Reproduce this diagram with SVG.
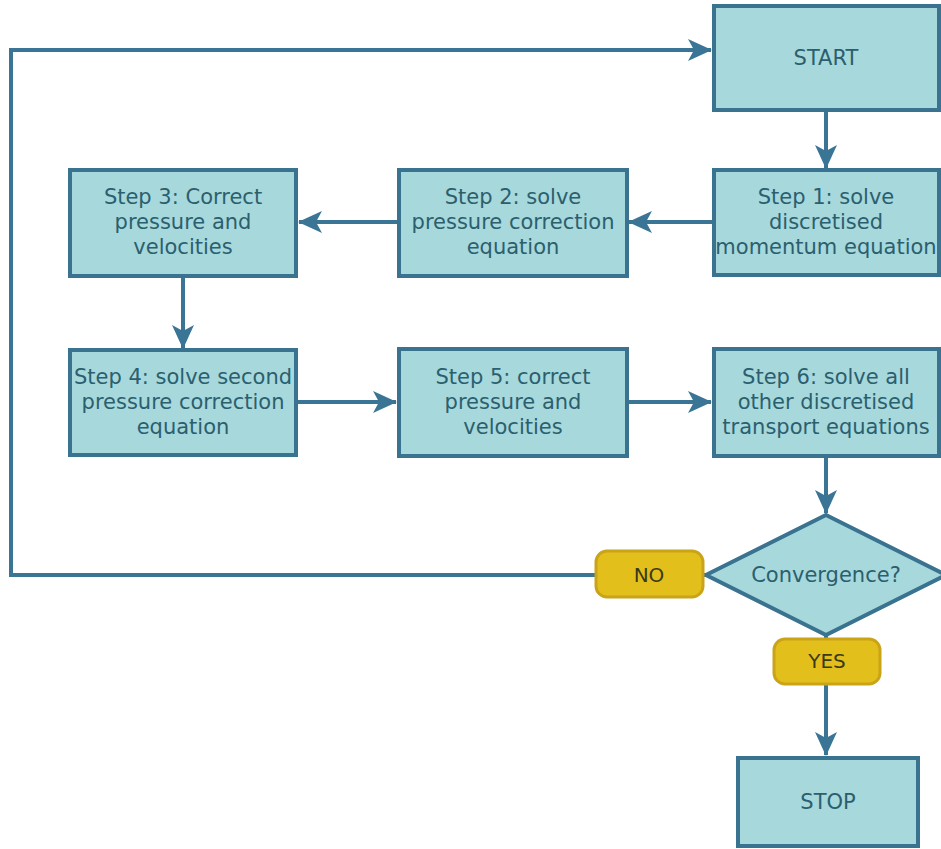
<svg xmlns="http://www.w3.org/2000/svg" width="941" height="849" viewBox="0 0 941 849">
<style>
.box{fill:#a7d8dc;stroke:#3a7390;stroke-width:4}
.lbl{fill:#e3bf1b;stroke:#c9a418;stroke-width:3}
.t{font-family:"DejaVu Sans",Verdana,sans-serif;font-size:21px;fill:#2b5f6e;text-anchor:middle;dominant-baseline:central}
.tl{font-family:"DejaVu Sans",Verdana,sans-serif;font-size:20px;fill:#3a3a1a;text-anchor:middle;dominant-baseline:central}
.c{fill:none;stroke:#3a7596;stroke-width:4}
</style>
<defs>
<marker id="a" viewBox="0 0 24 24" refX="23" refY="12" markerWidth="24" markerHeight="24" markerUnits="userSpaceOnUse" orient="auto">
<path d="M0,1 L24,12 L0,23 L6,12 Z" fill="#3a7596"/>
</marker>
</defs>
<rect width="941" height="849" fill="#ffffff"/>
<g id="connectors">
<path class="c" d="M826,110 V168" marker-end="url(#a)"/>
<path class="c" d="M713,222 H629" marker-end="url(#a)"/>
<path class="c" d="M398,222 H299" marker-end="url(#a)"/>
<path class="c" d="M183,277 V348" marker-end="url(#a)"/>
<path class="c" d="M297,402 H396" marker-end="url(#a)"/>
<path class="c" d="M627,402 H711" marker-end="url(#a)"/>
<path class="c" d="M826,456 V513" marker-end="url(#a)"/>
<path class="c" d="M826,635 V755" marker-end="url(#a)"/>
<path class="c" d="M707,575 H11 V50 H711" marker-end="url(#a)"/>
</g>
<g id="start"><rect class="box" x="714" y="6" width="225" height="104"/><text class="t" x="826" y="58">START</text></g>
<g id="step1"><rect class="box" x="714" y="170" width="225" height="105"/><text class="t" x="826"><tspan x="826" y="197">Step 1: solve</tspan><tspan x="826" y="222">discretised</tspan><tspan x="826" y="247">momentum equation</tspan></text></g>
<g id="step2"><rect class="box" x="399" y="170" width="228" height="106"/><text class="t"><tspan x="513" y="197">Step 2: solve</tspan><tspan x="513" y="222">pressure correction</tspan><tspan x="513" y="247">equation</tspan></text></g>
<g id="step3"><rect class="box" x="70" y="170" width="226" height="106"/><text class="t"><tspan x="183" y="197">Step 3: Correct</tspan><tspan x="183" y="222">pressure and</tspan><tspan x="183" y="247">velocities</tspan></text></g>
<g id="step4"><rect class="box" x="70" y="350" width="226" height="105"/><text class="t"><tspan x="183" y="377">Step 4: solve second</tspan><tspan x="183" y="402">pressure correction</tspan><tspan x="183" y="427">equation</tspan></text></g>
<g id="step5"><rect class="box" x="399" y="349" width="228" height="107"/><text class="t"><tspan x="513" y="377">Step 5: correct</tspan><tspan x="513" y="402">pressure and</tspan><tspan x="513" y="427">velocities</tspan></text></g>
<g id="step6"><rect class="box" x="714" y="349" width="225" height="107"/><text class="t"><tspan x="826" y="377">Step 6: solve all</tspan><tspan x="826" y="402">other discretised</tspan><tspan x="826" y="427">transport equations</tspan></text></g>
<g id="decision"><path class="box" d="M826,515 L946,575 L826,635 L706,575 Z"/><text class="t" x="826" y="575">Convergence?</text></g>
<g id="no"><rect class="lbl" x="596" y="551" width="107" height="46" rx="11"/><text class="tl" x="649" y="575">NO</text></g>
<g id="yes"><rect class="lbl" x="774" y="639" width="106" height="45" rx="11"/><text class="tl" x="827" y="661">YES</text></g>
<g id="stop"><rect class="box" x="738" y="758" width="180" height="88"/><text class="t" x="828" y="802">STOP</text></g>
</svg>
